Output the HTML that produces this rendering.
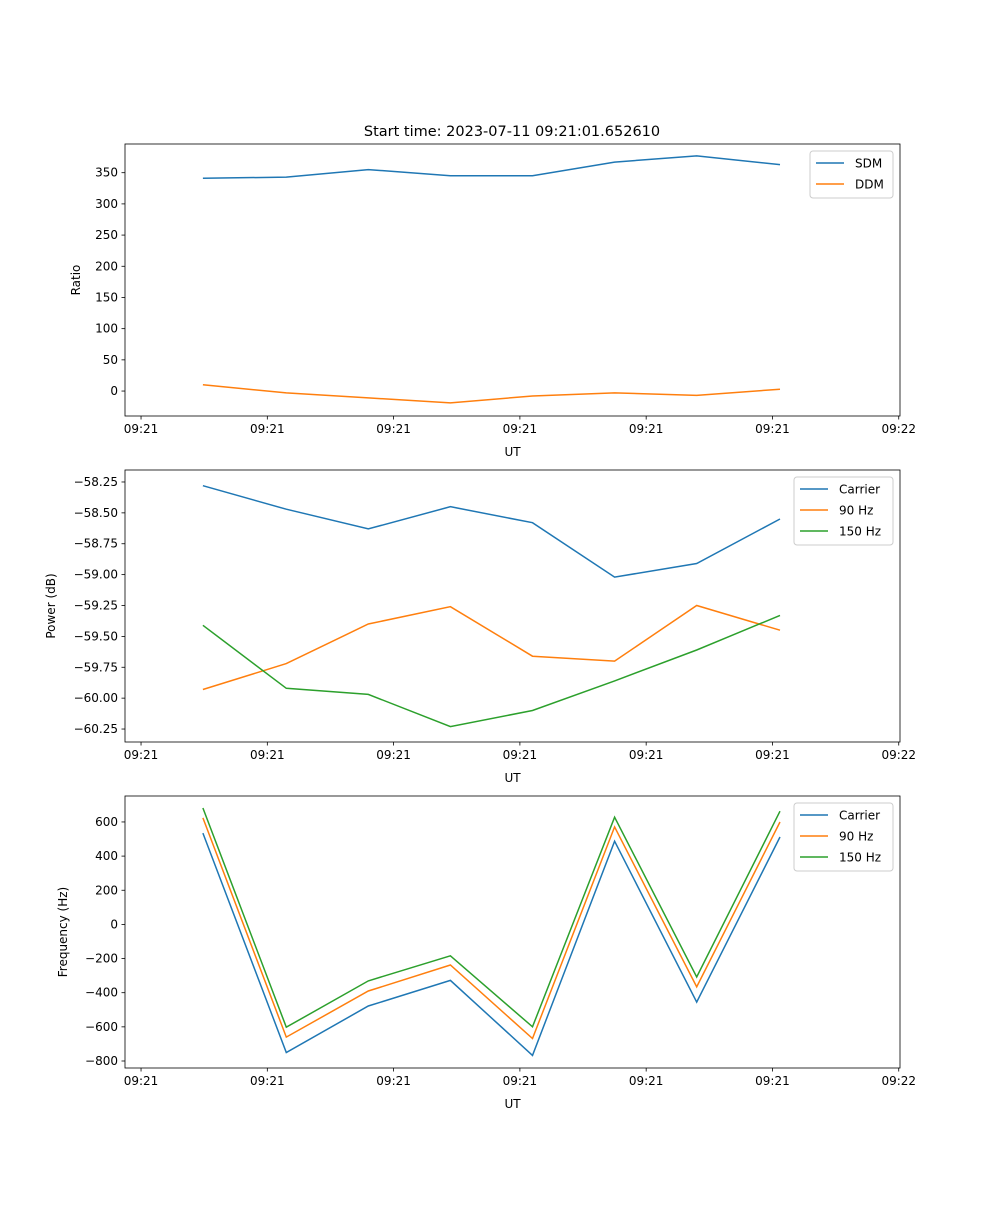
<!DOCTYPE html>
<html><head><meta charset="utf-8"><style>
body{margin:0;background:#fff;}
svg{font-family:"DejaVu Sans","Liberation Sans",sans-serif;}
</style></head><body>
<svg id="fig" width="1000" height="1200" xmlns="http://www.w3.org/2000/svg">
<rect width="1000" height="1200" fill="#fff"/>
<text x="512" y="136" font-size="14.5" text-anchor="middle">Start time: 2023-07-11 09:21:01.652610</text>
</svg>
<script>
const xTickLabels = ["09:21","09:21","09:21","09:21","09:21","09:21","09:22"];
const times = [0.49, 1.15, 1.80, 2.45, 3.10, 3.75, 4.40, 5.06];
const sdm = [341, 343, 355, 345, 345, 367, 377, 363];
const ddm = [10, -3, -11, -19, -8, -3, -7, 3];
const powCarrier = [-58.28, -58.47, -58.63, -58.45, -58.58, -59.02, -58.91, -58.55];
const pow90 = [-59.93, -59.72, -59.40, -59.26, -59.66, -59.70, -59.25, -59.45];
const pow150 = [-59.41, -59.92, -59.97, -60.23, -60.10, -59.86, -59.61, -59.33];
const freqCarrier = [535, -750, -478, -328, -767, 487, -455, 512];
const freq90 = [624, -660, -390, -238, -668, 571, -366, 600];
const freq150 = [682, -602, -331, -184, -600, 628, -308, 663];
const ratioTicks = [0,50,100,150,200,250,300,350];
const powTicks = [-60.25,-60.00,-59.75,-59.50,-59.25,-59.00,-58.75,-58.50,-58.25];
const freqTicks = [-800,-600,-400,-200,0,200,400,600];

const NS = "http://www.w3.org/2000/svg";
const svg = document.getElementById('fig');
const C = {b:'#1f77b4', o:'#ff7f0e', g:'#2ca02c'};
function el(t, a, parent){const e=document.createElementNS(NS,t);for(const k in a)e.setAttribute(k,a[k]);(parent||svg).appendChild(e);return e;}

function panel(top, ymin, ymax, yticks, fmt, ylabel, series, legend, name){
  const L=125,R=900,T=top,B=top+272;
  const g=el('g',{});
  
  
  const xs=t=>L+(t-(-0.127))/(6.01-(-0.127))*(R-L);
  const ys=v=>B-(v-ymin)/(ymax-ymin)*(B-T);
  series.forEach(s=>{
    const p=el('polyline',{points:s.vals.map((v,i)=>xs(times[i]).toFixed(1)+','+ys(v).toFixed(1)).join(' '),fill:'none',stroke:s.c,'stroke-width':1.5},g);
    
    
  });
  el('rect',{x:L,y:T,width:R-L,height:B-T,fill:'none',stroke:'#000','stroke-width':0.8},g);
  xTickLabels.forEach((lab,i)=>{
    const x=xs(i);
    el('line',{x1:x,x2:x,y1:B,y2:B+3.5,stroke:'#000','stroke-width':0.8},g);
    const t=el('text',{x:x,y:B+17,'font-size':12,'text-anchor':'middle'},g);t.textContent=lab;
    
    
  });
  yticks.forEach(v=>{
    const y=ys(v);
    el('line',{x1:L-3.5,x2:L,y1:y,y2:y,stroke:'#000','stroke-width':0.8},g);
    const t=el('text',{x:L-7,y:y+4,'font-size':12,'text-anchor':'end'},g);t.textContent=fmt(v);
    
    
  });
  const xl=el('text',{x:(L+R)/2,y:B+40,'font-size':12,'text-anchor':'middle'},g);xl.textContent='UT';
  
  
  const yl=el('text',{x:0,y:0,'font-size':12,'text-anchor':'middle',transform:`translate(${legend.yx},${(T+B)/2}) rotate(-90)`},g);yl.textContent=ylabel;
  
  
  const lx=legend.x, ly=T+7, lh=series.length*21+5;
  const lg=el('g',{},g);
  
  
  el('rect',{x:lx,y:ly,width:R-7-lx,height:lh,rx:3,fill:'#fff',stroke:'#ccc','stroke-width':1},lg);
  series.forEach((s,i)=>{
    const y=ly+12+i*21;
    el('line',{x1:lx+6,x2:lx+34,y1:y,y2:y,stroke:s.c,'stroke-width':1.5},lg);
    const t=el('text',{x:lx+45,y:y+4.5,'font-size':12},lg);t.textContent=s.label;
    
    
  });
}
panel(144,-40,396,ratioTicks,v=>String(v),'Ratio',
  [{id:'sdm',vals:sdm,c:C.b,label:'SDM'},{id:'ddm',vals:ddm,c:C.o,label:'DDM'}],{x:810,yx:80},'ratio-panel');
panel(470,-60.355,-58.153,powTicks,v=>'\u2212'+Math.abs(v).toFixed(2),'Power (dB)',
  [{id:'carrier-power',vals:powCarrier,c:C.b,label:'Carrier'},{id:'90hz-power',vals:pow90,c:C.o,label:'90 Hz'},{id:'150hz-power',vals:pow150,c:C.g,label:'150 Hz'}],{x:794,yx:55},'power-panel');
panel(796,-841,752,freqTicks,v=>v<0?'\u2212'+Math.abs(v):String(v),'Frequency (Hz)',
  [{id:'carrier-freq',vals:freqCarrier,c:C.b,label:'Carrier'},{id:'90hz-freq',vals:freq90,c:C.o,label:'90 Hz'},{id:'150hz-freq',vals:freq150,c:C.g,label:'150 Hz'}],{x:794,yx:67},'frequency-panel');
</script>
</body></html>
